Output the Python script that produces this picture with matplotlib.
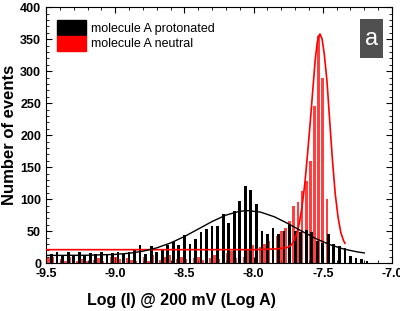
import numpy as np
import matplotlib

matplotlib.use("Agg")
import matplotlib.pyplot as plt
from matplotlib.patches import Patch, Rectangle
from matplotlib.ticker import MultipleLocator

plt.rcParams["font.family"] = ["Liberation Sans", "DejaVu Sans"]

# histogram of molecule A protonated (black)
black_x = [
    -9.46, -9.42, -9.38, -9.34, -9.30, -9.26, -9.22, -9.18, -9.14, -9.10,
    -9.06, -9.02, -8.98, -8.94, -8.90, -8.86, -8.82, -8.78, -8.74, -8.70,
    -8.66, -8.62, -8.58, -8.54, -8.50, -8.46, -8.42, -8.38, -8.34, -8.30,
    -8.26, -8.22, -8.18, -8.14, -8.10, -8.06, -8.02, -7.98, -7.94, -7.90,
    -7.86, -7.82, -7.78, -7.74, -7.70, -7.66, -7.62, -7.58, -7.54, -7.50,
    -7.46, -7.42, -7.38, -7.34, -7.30, -7.26, -7.22, -7.18,
]
black_counts = [
    14, 18, 12, 17, 13, 17, 12, 16, 14, 17,
    13, 16, 17, 15, 18, 20, 29, 15, 26, 18,
    22, 29, 33, 28, 44, 30, 37, 48, 53, 58,
    58, 77, 63, 82, 97, 121, 114, 92, 50, 45,
    55, 45, 50, 60, 50, 48, 52, 48, 35, 32,
    45, 30, 26, 23, 11, 8, 6, 3,
]

# histogram of molecule A neutral (red)
red_x = [
    -9.48, -9.45, -9.42, -9.39, -9.36, -9.33, -9.30, -9.27, -9.24, -9.21,
    -9.18, -9.15, -9.12, -9.09, -9.06, -9.03, -9.00, -8.97, -8.94, -8.91,
    -8.88, -8.85, -8.82, -8.79, -8.76, -8.73, -8.70, -8.67, -8.64, -8.61,
    -8.58, -8.55, -8.52, -8.49, -8.46, -8.43, -8.40, -8.37, -8.34, -8.31,
    -8.28, -8.25, -8.22, -8.19, -8.16, -8.13, -8.10, -8.07, -8.04, -8.01,
    -7.98, -7.95, -7.92, -7.89, -7.86, -7.83, -7.80, -7.77, -7.74, -7.71,
    -7.68, -7.65, -7.62, -7.59, -7.56, -7.53, -7.50, -7.47,
]
red_counts = [
    8, 10, 4, 6, 3, 9, 5, 4, 7, 3,
    6, 5, 8, 4, 3, 9, 10, 6, 4, 8,
    5, 3, 7, 9, 4, 12, 6, 5, 10, 12,
    4, 7, 10, 6, 4, 8, 10, 5, 3, 8,
    12, 6, 10, 16, 19, 8, 6, 10, 22, 28,
    20, 25, 30, 35, 38, 42, 50, 55, 66, 90,
    95, 113, 129, 160, 246, 355, 290, 100,
]

# fitted curves
black_fit_x = [-9.5, -9.2, -9.0, -8.9, -8.8, -8.7, -8.6, -8.5, -8.4, -8.3, -8.2,
               -8.1, -8.04, -7.95, -7.85, -7.75, -7.65, -7.55, -7.45, -7.35,
               -7.25, -7.2]
black_fit_y = [12, 12.3, 13.6, 15.4, 18.6, 23.8, 31.5, 41.5, 53.2, 65, 75,
               81, 82, 79.7, 72.4, 61.6, 49.7, 38.3, 28.9, 22, 17.5, 15.9]

red_fit_x = [-9.5, -8.0, -7.85, -7.80, -7.77, -7.75, -7.73, -7.71, -7.69, -7.67,
             -7.65, -7.63, -7.61, -7.59, -7.57, -7.555, -7.54, -7.53, -7.52,
             -7.505, -7.49, -7.47, -7.45, -7.43, -7.41, -7.39, -7.37, -7.35,
             -7.34]
red_fit_y = [21, 21, 22, 23, 24, 25, 28, 34, 45, 62,
             88, 124, 171, 222, 277, 317, 345, 355, 358,
             350, 328, 285, 222, 160, 108, 72, 48, 35, 31]

fig = plt.figure(figsize=(4.0, 3.11), dpi=100)
ax = fig.add_axes([0.115, 0.154, 0.865, 0.823])

ax.bar(red_x, red_counts, width=0.02, color="red", alpha=0.75, linewidth=0, zorder=2)
ax.bar(black_x, black_counts, width=0.02, color="black", linewidth=0, zorder=3)
ax.plot(red_fit_x, red_fit_y, color="red", linewidth=1.2, zorder=4)
ax.plot(black_fit_x, black_fit_y, color="black", linewidth=1.0, zorder=4)

ax.set_xlim(-9.5, -7.0)
ax.set_ylim(0, 400)
ax.xaxis.set_major_locator(MultipleLocator(0.5))
ax.xaxis.set_minor_locator(MultipleLocator(0.1))
ax.yaxis.set_major_locator(MultipleLocator(50))
ax.yaxis.set_minor_locator(MultipleLocator(10))
ax.tick_params(which="both", direction="in", top=True, right=True, labelsize=9)
ax.tick_params(which="major", length=4)
ax.tick_params(which="minor", length=2)
ax.set_xticks([-9.5, -9.0, -8.5, -8.0, -7.5, -7.0])
ax.set_xticklabels(["-9.5", "-9.0", "-8.5", "-8.0", "-7.5", "-7.0"], fontweight="bold")
for lbl in ax.get_yticklabels():
    lbl.set_fontweight("bold")

ax.set_xlabel("Log (I) @ 200 mV (Log A)", fontsize=11.5, fontweight="bold")
ax.xaxis.set_label_coords(0.39, -0.115)
ax.set_ylabel("Number of events", fontsize=12, fontweight="bold", labelpad=2)

handles = [Patch(facecolor="black", edgecolor="black"),
           Patch(facecolor="red", edgecolor="red")]
ax.legend(handles, ["molecule A protonated", "molecule A neutral"],
          loc="upper left", bbox_to_anchor=(0.01, 0.98), frameon=False,
          fontsize=9, handlelength=2.3, handleheight=1.5, handletextpad=0.4,
          labelspacing=0.05, borderaxespad=0.2)

ax.add_patch(Rectangle((0.907, 0.80), 0.068, 0.155, transform=ax.transAxes,
                       facecolor="#505050", edgecolor="none", zorder=5))
ax.text(0.941, 0.877, "a", transform=ax.transAxes, color="white", fontsize=17,
        ha="center", va="center", zorder=6)

fig.savefig("out.png", dpi=100)
